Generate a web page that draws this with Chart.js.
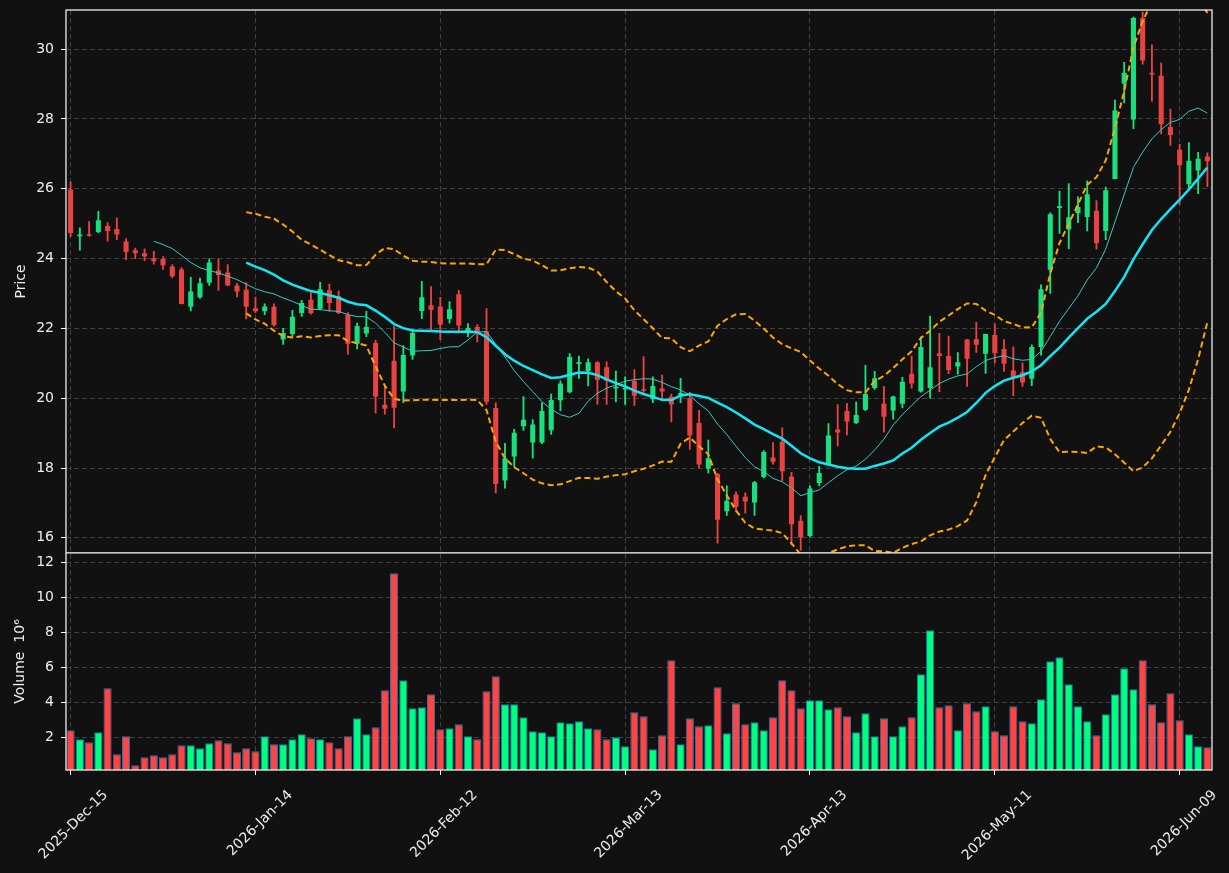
<!DOCTYPE html>
<html>
<head>
<meta charset="utf-8">
<script src="https://cdn.jsdelivr.net/npm/chart.js@4.4.1/dist/chart.umd.min.js"></script>
<style>
html,body{margin:0;padding:0;background:#111111;}
canvas{display:block;}
</style>
</head>
<body>
<canvas id="c" width="1229" height="873"></canvas>
<script>
const dates = [
'2025-Dec-15','2025-Dec-16','2025-Dec-17','2025-Dec-18','2025-Dec-19','2025-Dec-22','2025-Dec-23','2025-Dec-24','2025-Dec-26','2025-Dec-29','2025-Dec-30','2025-Dec-31',
'2026-Jan-02','2026-Jan-05','2026-Jan-06','2026-Jan-07','2026-Jan-08','2026-Jan-09','2026-Jan-12','2026-Jan-13','2026-Jan-14','2026-Jan-15','2026-Jan-16','2026-Jan-20','2026-Jan-21','2026-Jan-22','2026-Jan-23','2026-Jan-26','2026-Jan-27','2026-Jan-28','2026-Jan-29','2026-Jan-30',
'2026-Feb-02','2026-Feb-03','2026-Feb-04','2026-Feb-05','2026-Feb-06','2026-Feb-09','2026-Feb-10','2026-Feb-11','2026-Feb-12','2026-Feb-13','2026-Feb-17','2026-Feb-18','2026-Feb-19','2026-Feb-20','2026-Feb-23','2026-Feb-24','2026-Feb-25','2026-Feb-26','2026-Feb-27',
'2026-Mar-02','2026-Mar-03','2026-Mar-04','2026-Mar-05','2026-Mar-06','2026-Mar-09','2026-Mar-10','2026-Mar-11','2026-Mar-12','2026-Mar-13','2026-Mar-16','2026-Mar-17','2026-Mar-18','2026-Mar-19','2026-Mar-20','2026-Mar-23','2026-Mar-24','2026-Mar-25','2026-Mar-26','2026-Mar-27','2026-Mar-30','2026-Mar-31',
'2026-Apr-01','2026-Apr-02','2026-Apr-06','2026-Apr-07','2026-Apr-08','2026-Apr-09','2026-Apr-10','2026-Apr-13','2026-Apr-14','2026-Apr-15','2026-Apr-16','2026-Apr-17','2026-Apr-20','2026-Apr-21','2026-Apr-22','2026-Apr-23','2026-Apr-24','2026-Apr-27','2026-Apr-28','2026-Apr-29','2026-Apr-30',
'2026-May-01','2026-May-04','2026-May-05','2026-May-06','2026-May-07','2026-May-08','2026-May-11','2026-May-12','2026-May-13','2026-May-14','2026-May-15','2026-May-18','2026-May-19','2026-May-20','2026-May-21','2026-May-22','2026-May-26','2026-May-27','2026-May-28','2026-May-29',
'2026-Jun-01','2026-Jun-02','2026-Jun-03','2026-Jun-04','2026-Jun-05','2026-Jun-08','2026-Jun-09','2026-Jun-10','2026-Jun-11','2026-Jun-12'
];
const tickLabels = ['2025-Dec-15','2026-Jan-14','2026-Feb-12','2026-Mar-13','2026-Apr-13','2026-May-11','2026-Jun-09'];

const opens = [
25.98,24.64,24.67,24.76,24.93,24.85,24.49,24.24,24.15,24.01,
23.99,23.77,23.69,22.62,22.89,23.31,23.66,23.60,23.23,23.11,
22.58,22.49,22.62,21.68,21.84,22.44,22.82,22.56,23.09,22.92,
22.38,21.56,21.85,21.58,19.81,21.07,20.19,21.22,22.50,22.66,
22.63,22.27,22.98,21.88,22.04,21.91,19.72,17.64,18.33,19.20,
18.73,18.73,19.08,19.94,20.17,20.98,20.78,21.03,20.89,20.28,
20.25,20.50,20.24,19.97,20.28,20.04,20.10,20.00,19.29,17.98,
17.83,16.76,17.24,17.18,17.01,17.74,18.30,18.75,17.76,16.49,
16.05,17.57,18.10,19.10,19.63,19.29,19.67,20.29,19.85,19.65,
19.84,20.70,20.19,20.29,21.29,21.21,20.91,21.68,21.69,21.27,
21.81,21.41,20.79,20.74,20.56,21.47,23.68,25.45,24.83,25.30,
25.19,25.37,24.79,26.28,29.01,27.98,30.89,29.32,29.24,27.77,
27.12,26.13,26.52,26.92
];
const highs = [
26.20,24.88,25.06,25.35,25.03,25.17,24.57,24.30,24.28,24.21,
24.06,23.83,23.74,23.46,23.44,23.99,23.99,23.83,23.29,23.31,
22.90,22.70,22.70,22.00,22.52,22.80,23.02,23.32,23.27,23.07,
22.45,22.15,22.49,21.66,20.37,22.06,21.51,21.97,23.35,23.20,
22.89,22.77,23.09,22.14,22.11,22.57,19.87,18.71,19.11,20.05,
19.39,19.87,20.12,20.50,21.28,21.21,21.13,21.05,21.04,20.78,
20.61,20.82,21.19,20.61,20.66,20.12,20.57,20.17,19.65,18.80,
17.85,17.49,17.32,17.29,17.62,18.50,18.73,19.15,17.88,16.64,
17.49,18.05,19.27,19.82,19.85,19.89,20.94,20.77,20.34,20.06,
20.60,21.21,21.76,22.35,21.86,21.78,21.31,21.69,22.17,21.84,
22.13,21.68,21.47,21.01,21.53,23.25,25.31,25.93,26.15,25.77,
26.23,25.66,26.05,28.54,29.62,30.92,31.06,30.12,29.60,28.28,
27.27,27.32,27.04,27.03
];
const lows = [
24.63,24.24,24.64,24.74,24.50,24.54,23.97,24.00,23.94,23.84,
23.69,23.45,22.70,22.50,22.86,23.23,23.09,23.22,22.90,22.27,
22.45,22.39,22.06,21.54,21.76,22.34,22.41,22.53,22.49,22.42,
21.26,21.41,21.76,19.57,19.54,19.15,19.87,21.11,22.28,21.91,
21.68,22.15,21.86,21.76,21.61,19.82,17.29,17.42,18.03,19.08,
18.28,18.70,18.96,19.64,20.15,20.57,20.35,19.82,19.82,19.89,
19.82,19.79,20.17,19.87,19.92,19.32,19.87,18.53,18.00,17.85,
15.85,16.64,16.74,16.71,16.64,17.72,18.11,17.64,15.80,15.65,
16.03,17.49,18.08,18.63,18.95,19.27,19.64,20.25,19.03,19.40,
19.72,20.29,20.17,20.00,20.19,20.70,20.69,20.34,21.31,20.71,
21.01,20.77,20.07,20.34,20.36,21.23,23.00,24.72,24.28,25.03,
24.79,24.27,24.54,26.28,28.46,27.72,29.57,28.51,27.57,27.24,
25.55,26.03,25.86,26.06
];
const closes = [
24.73,24.67,24.65,25.10,24.79,24.69,24.19,24.15,24.06,23.92,
23.81,23.49,22.70,23.06,23.29,23.89,23.52,23.23,23.06,22.62,
22.49,22.63,22.10,21.87,22.33,22.73,22.43,23.12,22.73,22.44,
21.56,22.07,22.04,20.05,19.70,19.73,21.24,21.87,22.89,22.53,
22.11,22.55,22.08,22.01,21.91,19.90,17.54,18.28,19.01,19.38,
19.25,19.63,19.95,20.42,21.18,21.03,21.03,20.53,20.50,20.31,
20.29,20.07,20.21,20.35,20.19,19.82,20.13,18.93,18.10,18.28,
16.52,17.06,16.89,17.04,17.59,18.46,18.18,17.91,16.39,16.02,
17.41,17.86,18.93,19.02,19.33,19.52,20.12,20.57,19.47,20.05,
20.47,20.42,21.47,20.89,21.21,20.81,21.03,21.13,21.53,21.84,
21.29,20.99,20.58,20.45,21.47,23.12,25.27,25.50,25.18,25.48,
25.84,24.44,25.96,28.24,29.32,30.89,29.67,29.27,27.85,27.54,
26.67,26.80,26.86,26.79
];
// volume in millions
const volumes = [
2.40,1.89,1.71,2.29,4.80,1.03,2.06,0.40,0.86,0.97,
0.86,1.03,1.54,1.54,1.37,1.66,1.83,1.66,1.14,1.37,
1.20,2.06,1.60,1.60,1.89,2.17,1.94,1.89,1.71,1.37,
2.06,3.09,2.17,2.57,4.69,11.37,5.26,3.66,3.71,4.46,
2.46,2.51,2.74,2.06,1.89,4.63,5.49,3.89,3.89,3.14,
2.34,2.29,2.06,2.86,2.80,2.91,2.51,2.46,1.89,2.00,
1.49,3.43,3.20,1.31,2.11,6.40,1.60,3.09,2.63,2.69,
4.86,2.23,3.94,2.74,2.86,2.40,3.14,5.26,4.69,3.66,
4.11,4.11,3.60,3.71,3.20,2.29,3.37,2.06,3.09,2.06,
2.63,3.14,5.60,8.11,3.71,3.83,2.40,3.94,3.49,3.77,
2.34,2.11,3.77,2.91,2.80,4.17,6.34,6.57,5.03,3.77,
2.91,2.11,3.31,4.46,5.94,4.74,6.40,3.89,2.86,4.51,
2.97,2.17,1.49,1.43
];

// indicators derived from closes
function rollingMean(arr, n) {
  return arr.map((_, i) => {
    if (i < n - 1) return null;
    let s = 0; for (let k = i - n + 1; k <= i; k++) s += arr[k];
    return s / n;
  });
}
function rollingStd(arr, n) {
  const m = rollingMean(arr, n);
  return arr.map((_, i) => {
    if (i < n - 1) return null;
    let s = 0; for (let k = i - n + 1; k <= i; k++) s += (arr[k] - m[i]) ** 2;
    return Math.sqrt(s / n);
  });
}
const ma10 = rollingMean(closes, 10);
const ma20 = rollingMean(closes, 20);
const sd20 = rollingStd(closes, 20);
const bbUpper = ma20.map((v, i) => v === null ? null : v + 2 * sd20[i]);
const bbLower = ma20.map((v, i) => v === null ? null : v - 2 * sd20[i]);

const UP_C = '#18e07e', DN_C = '#e84242';
const UP_V = '#00ff80', DN_V = '#ff4444';
const isUp = closes.map((c, i) => c >= opens[i]);

const TEXT = '#eeeeee';
const GRID = '#404040';
Chart.defaults.font.family = "'DejaVu Sans', sans-serif";
Chart.defaults.font.size = 14;
Chart.defaults.color = TEXT;

const bgPlugin = {
  id: 'bg',
  beforeDraw(chart) {
    const ctx = chart.ctx;
    ctx.save(); ctx.fillStyle = '#111111';
    ctx.fillRect(0, 0, chart.width, chart.height); ctx.restore();
  }
};
const clipPlugin = {
  id: 'panelClip',
  beforeDatasetDraw(chart, args) {
    const ys = chart.scales[args.meta.yAxisID];
    const a = chart.chartArea;
    const ctx = chart.ctx;
    ctx.save(); ctx.beginPath();
    ctx.rect(a.left, ys.top, a.right - a.left, ys.bottom - ys.top);
    ctx.clip();
  },
  afterDatasetDraw(chart) { chart.ctx.restore(); }
};
const framePlugin = {
  id: 'frame',
  afterDraw(chart) {
    const a = chart.chartArea, ctx = chart.ctx;
    const sep = chart.scales.y.bottom;
    ctx.save();
    ctx.strokeStyle = '#ffffff'; ctx.lineWidth = 1.2;
    ctx.strokeRect(a.left, a.top, a.right - a.left, a.bottom - a.top);
    ctx.beginPath(); ctx.moveTo(a.left, sep); ctx.lineTo(a.right, sep); ctx.stroke();
    ctx.restore();
  }
};

const xGridColor = ctx => (ctx.tick && tickLabels.includes(dates[ctx.tick.value])) ? GRID : 'rgba(0,0,0,0)';
const xTickColor = ctx => (ctx.tick && tickLabels.includes(dates[ctx.tick.value])) ? '#ffffff' : 'rgba(0,0,0,0)';
const fitY = s => { s.width = 66; s.paddingTop = 0; s.paddingBottom = 0; };

new Chart(document.getElementById('c'), {
  type: 'bar',
  data: {
    labels: dates,
    datasets: [
      { type: 'line', label: 'MA20', data: ma20, yAxisID: 'y', borderColor: '#12e6f6', borderWidth: 2.5, pointRadius: 0, tension: 0, order: 0 },
      { type: 'line', label: 'MA10', data: ma10, yAxisID: 'y', borderColor: '#3cc8c0', borderWidth: 1, pointRadius: 0, tension: 0, order: 0 },
      { type: 'line', label: 'BB upper', data: bbUpper, yAxisID: 'y', borderColor: '#ffa500', borderWidth: 2, borderDash: [6, 3.5], pointRadius: 0, tension: 0, order: 0 },
      { type: 'line', label: 'BB lower', data: bbLower, yAxisID: 'y', borderColor: '#ffa500', borderWidth: 2, borderDash: [6, 3.5], pointRadius: 0, tension: 0, order: 0 },
      { type: 'bar', label: 'body', data: opens.map((o, i) => [o, closes[i]]), yAxisID: 'y', grouped: false,
        backgroundColor: isUp.map(u => u ? UP_C : DN_C), borderWidth: 0, barPercentage: 0.55, categoryPercentage: 1, minBarLength: 1.6, order: 1 },
      { type: 'bar', label: 'wick', data: lows.map((l, i) => [l, highs[i]]), yAxisID: 'y', grouped: false,
        backgroundColor: isUp.map(u => u ? UP_C : DN_C), borderWidth: 0, barThickness: 1.2, order: 2 },
      { type: 'bar', label: 'Volume', data: volumes, yAxisID: 'yVol', grouped: false,
        backgroundColor: isUp.map(u => u ? UP_V : DN_V), borderColor: '#1f77b4', borderWidth: 1, borderSkipped: false,
        barPercentage: 0.88, categoryPercentage: 1, order: 3 }
    ]
  },
  options: {
    responsive: false,
    animation: false,
    events: [],
    layout: { padding: { top: 10, right: 17, left: 0, bottom: 0 } },
    plugins: { legend: { display: false }, tooltip: { enabled: false } },
    scales: {
      x: {
        type: 'category', offset: true,
        grid: { offset: false, color: xGridColor, tickColor: xTickColor, tickLength: 5, tickWidth: 1, tickBorderDash: [], drawTicks: true },
        border: { display: false, dash: [5, 3] },
        ticks: {
          autoSkip: false, maxRotation: 45, minRotation: 45, padding: 12, labelOffset: 35, color: TEXT,
          callback: function (v) { const l = this.getLabelForValue(v); return tickLabels.includes(l) ? l : null; }
        },
        afterFit: s => { s.height = 103; s.paddingLeft = 0; s.paddingRight = 0; }
      },
      yVol: {
        type: 'linear', position: 'left', stack: 'panels', stackWeight: 1, weight: 0,
        min: 0.13, max: 12.53,
        grid: { color: GRID, tickColor: '#ffffff', tickLength: 5, tickBorderDash: [] },
        border: { display: false, dash: [5, 3] },
        ticks: { stepSize: 2, includeBounds: false, padding: 7, color: TEXT },
        title: { display: true, text: 'Volume  10\u2076', color: TEXT, padding: { top: 12, bottom: 0 } },
        afterFit: fitY
      },
      y: {
        type: 'linear', position: 'left', stack: 'panels', stackWeight: 2.5, weight: 1,
        min: 15.57, max: 31.12,
        grid: { color: GRID, tickColor: '#ffffff', tickLength: 5, tickBorderDash: [] },
        border: { display: false, dash: [5, 3] },
        ticks: { stepSize: 2, includeBounds: false, padding: 7, color: TEXT },
        title: { display: true, text: 'Price', color: TEXT, padding: { top: 13, bottom: 0 } },
        afterFit: fitY
      }
    }
  },
  plugins: [bgPlugin, clipPlugin, framePlugin]
});
</script>
</body>
</html>
